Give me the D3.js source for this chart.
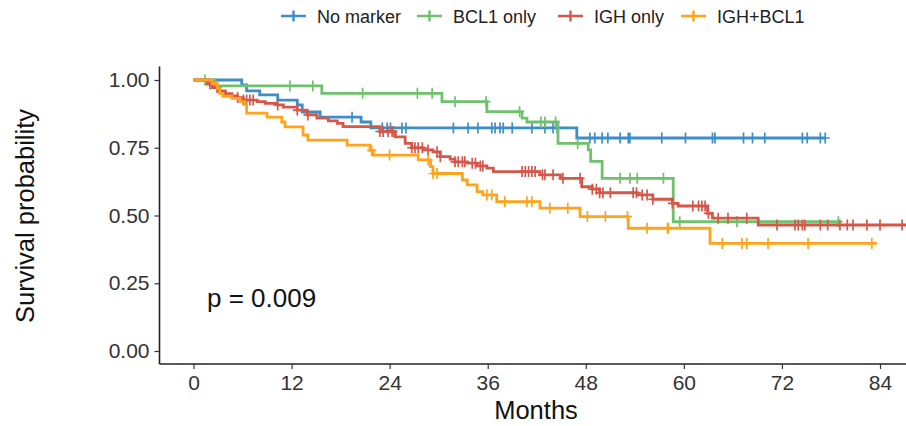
<!DOCTYPE html>
<html>
<head>
<meta charset="utf-8">
<script src="https://cdn.jsdelivr.net/npm/d3@7.9.0/dist/d3.min.js"></script>
<style>
  body { margin: 0; background: #fff; }
  svg { display: block; font-family: "Liberation Sans", Arial, sans-serif; }
</style>
</head>
<body>
<svg id="chart" width="906" height="426"></svg>
<script>
// ---- Data ----
const groups = ['No marker', 'BCL1 only', 'IGH only', 'IGH+BCL1'];
const colors = ['#3d8ec6', '#6fc16d', '#d4574a', '#ffa31a'];

// step times (months) and survival after each step
const noMarkerTime = [0, 5.9, 6.5, 8.1, 10.3, 12.7, 13.3, 15.5, 20.5, 21.7, 46.9];
const noMarkerSurv = [1, 0.982, 0.96, 0.945, 0.926, 0.908, 0.882, 0.863, 0.845, 0.823, 0.786];
const noMarkerEnd = 77.3;
const noMarkerCens = [19.4, 23.1, 23.7, 24.1, 25.5, 26.0, 31.8, 33.6, 34.8, 36.5, 36.9, 37.5, 37.9,
  39.0, 41.4, 43.0, 44.0, 44.5, 48.5, 49.1, 50.0, 50.7, 52.2, 53.2, 53.4, 57.3, 60.2, 63.5, 63.8,
  67.3, 68.4, 69.9, 74.5, 75.1, 76.7, 77.3];

const bclTime = [0, 2.6, 15.7, 30.4, 35.9, 40.2, 40.8, 44.6, 48.3, 48.6, 50.0, 58.7];
const bclSurv = [1, 0.978, 0.951, 0.92, 0.883, 0.859, 0.845, 0.766, 0.742, 0.70, 0.637, 0.477];
const bclEnd = 79;
const bclCens = [1.4, 11.8, 14.6, 20.7, 27.4, 29.2, 32.0, 35.8, 39.9, 42.5, 43.0, 44.3, 47.0,
  52.2, 53.4, 54.3, 57.5, 59.5, 66.5, 78.9];

const ighTime = [0, 1.7, 2.3, 3.0, 3.9, 4.7, 5.4, 6.1, 7.8, 8.8, 10.2, 11.0, 12.7, 13.9, 15.1,
  16.5, 17.6, 18.3, 22.8, 24.7, 25.9, 26.7, 28.1, 29.3, 30.2, 31.4, 32.0, 33.5, 34.7, 35.9, 36.7,
  42.4, 44.9, 47.5, 48.8, 49.7, 54.3, 56.2, 58.6, 59.3, 62.9, 63.5, 69.1];
const ighSurv = [1, 0.985, 0.972, 0.96, 0.95, 0.941, 0.935, 0.926, 0.92, 0.914, 0.908, 0.90, 0.889,
  0.871, 0.859, 0.849, 0.84, 0.828, 0.81, 0.79, 0.766, 0.75, 0.742, 0.735, 0.717, 0.708, 0.698,
  0.693, 0.683, 0.675, 0.662, 0.65, 0.637, 0.606, 0.597, 0.584, 0.576, 0.56, 0.545, 0.535, 0.508,
  0.49, 0.465];
const ighEnd = 88;
const ighCens = [2.0, 2.9, 5.4, 6.1, 6.5, 6.9, 7.3, 10.3, 12.7, 14.0, 22.8, 23.2, 23.8, 24.3, 24.4,
  26.7, 27.1, 27.5, 28.0, 28.7, 29.8, 30.2, 32.0, 32.4, 32.9, 33.2, 34.1, 34.5, 35.1, 35.4, 40.2,
  40.6, 41.0, 41.4, 41.8, 42.7, 43.0, 44.0, 45.2, 47.3, 48.8, 49.3, 49.7, 50.1, 51.0, 53.8, 54.2,
  54.9, 55.5, 56.2, 58.6, 61.1, 61.8, 62.2, 62.6, 63.0, 64.2, 65.4, 67.7, 71.4, 73.6, 74.0, 74.5,
  74.8, 76.7, 77.6, 79.1, 80.0, 80.7, 82.4, 84.0, 86.7];

const bothTime = [0, 2.3, 2.9, 3.2, 3.6, 4.7, 5.7, 6.3, 6.5, 9.0, 10.8, 11.2, 13.4, 14.0, 18.8,
  21.6, 22.0, 27.5, 29.0, 29.3, 32.9, 33.5, 34.7, 35.4, 37.1, 42.4, 47.3, 53.2, 63.2];
const bothSurv = [1, 0.987, 0.97, 0.951, 0.94, 0.932, 0.92, 0.91, 0.878, 0.863, 0.845, 0.827,
  0.797, 0.778, 0.76, 0.74, 0.723, 0.705, 0.68, 0.655, 0.631, 0.613, 0.588, 0.576, 0.551, 0.527,
  0.496, 0.453, 0.397];
const bothEnd = 83.6;
const bothCens = [21.8, 24.0, 28.7, 29.3, 29.8, 35.9, 36.5, 38.1, 40.8, 41.4, 43.6, 45.8, 48.2,
  50.4, 53.1, 55.5, 58.0, 58.1, 64.7, 67.1, 67.7, 70.3, 75.2, 83.0];

const xTicks = [0, 12, 24, 36, 48, 60, 72, 84];
const yTicks = [0, 0.25, 0.5, 0.75, 1];
const pLabel = 'p = 0.009';

const series = [
  { time: noMarkerTime, surv: noMarkerSurv, end: noMarkerEnd, cens: noMarkerCens },
  { time: bclTime, surv: bclSurv, end: bclEnd, cens: bclCens },
  { time: ighTime, surv: ighSurv, end: ighEnd, cens: ighCens },
  { time: bothTime, surv: bothSurv, end: bothEnd, cens: bothCens }
];

// ---- Layout ----
const svg = d3.select('#chart');
const panel = { left: 159.5, right: 908, top: 66.5, bottom: 364 };
const x = d3.scaleLinear().domain([0, 84]).range([193.5, 880]);
const y = d3.scaleLinear().domain([0, 1]).range([351, 80]);

svg.append('defs').append('clipPath').attr('id', 'clip')
  .append('rect')
  .attr('x', panel.left).attr('y', panel.top - 10)
  .attr('width', panel.right - panel.left).attr('height', panel.bottom - panel.top + 10);

// ---- Axes ----
const xAxis = svg.append('g')
  .attr('transform', `translate(0,${panel.bottom})`)
  .call(d3.axisBottom(x).tickValues(xTicks).tickSize(5).tickPadding(6).tickFormat(d3.format('d')));
xAxis.select('.domain').attr('d', `M${panel.left},0H${panel.right}`);

const yAxis = svg.append('g')
  .attr('transform', `translate(${panel.left},0)`)
  .call(d3.axisLeft(y).tickValues(yTicks).tickSize(5).tickPadding(5).tickFormat(d3.format('.2f')));
yAxis.select('.domain').attr('d', `M0,${panel.top}V${panel.bottom}`);

[xAxis, yAxis].forEach(a => {
  a.select('.domain').attr('stroke', '#222').attr('stroke-width', 1.6);
  a.selectAll('.tick line').attr('stroke', '#333').attr('stroke-width', 1.2);
  a.selectAll('.tick text').attr('fill', '#333').attr('font-size', 21)
    .attr('font-family', '"Liberation Sans", Arial, sans-serif');
});

svg.append('text')
  .attr('x', 536).attr('y', 419)
  .attr('text-anchor', 'middle').attr('font-size', 25.5).attr('fill', '#111')
  .text('Months');

svg.append('text')
  .attr('transform', 'translate(34,216) rotate(-90)')
  .attr('text-anchor', 'middle').attr('font-size', 25.5).attr('fill', '#111')
  .text('Survival probability');

// ---- Curves ----
const line = d3.line()
  .x(d => x(d[0]))
  .y(d => y(d[1]))
  .curve(d3.curveStepAfter);

const plot = svg.append('g').attr('clip-path', 'url(#clip)');

function survAt(s, t) {
  let v = s.surv[0];
  s.time.forEach((tt, i) => { if (tt <= t) v = s.surv[i]; });
  return v;
}

series.forEach((s, i) => {
  const pts = s.time.map((t, k) => [t, s.surv[k]]);
  pts.push([s.end, s.surv[s.surv.length - 1]]);
  plot.append('path')
    .datum(pts)
    .attr('fill', 'none')
    .attr('stroke', colors[i])
    .attr('stroke-width', 2.8)
    .attr('d', line);

  plot.selectAll(null)
    .data(s.cens)
    .join('path')
    .attr('d', t => {
      const cx = x(t), cy = y(survAt(s, t));
      return `M${cx},${cy - 5.5}V${cy + 5.5}M${cx - 4.5},${cy}H${cx + 4.5}`;
    })
    .attr('stroke', colors[i])
    .attr('stroke-width', 1.7)
    .attr('fill', 'none');
});

// ---- p-value ----
svg.append('text')
  .attr('x', 207).attr('y', 307)
  .attr('font-size', 26).attr('fill', '#111')
  .text(pLabel);

// ---- Legend ----
const legendX = [281, 417, 558, 681];
const legend = svg.append('g');
groups.forEach((g, i) => {
  const lg = legend.append('g').attr('transform', `translate(${legendX[i]},16)`);
  lg.append('path')
    .attr('d', 'M0,0H25M12.5,-5.5V5.5')
    .attr('stroke', colors[i]).attr('stroke-width', 2.4);
  lg.append('text')
    .attr('x', 36).attr('y', 6.5)
    .attr('font-size', 18).attr('fill', '#222')
    .text(g);
});
</script>
</body>
</html>
